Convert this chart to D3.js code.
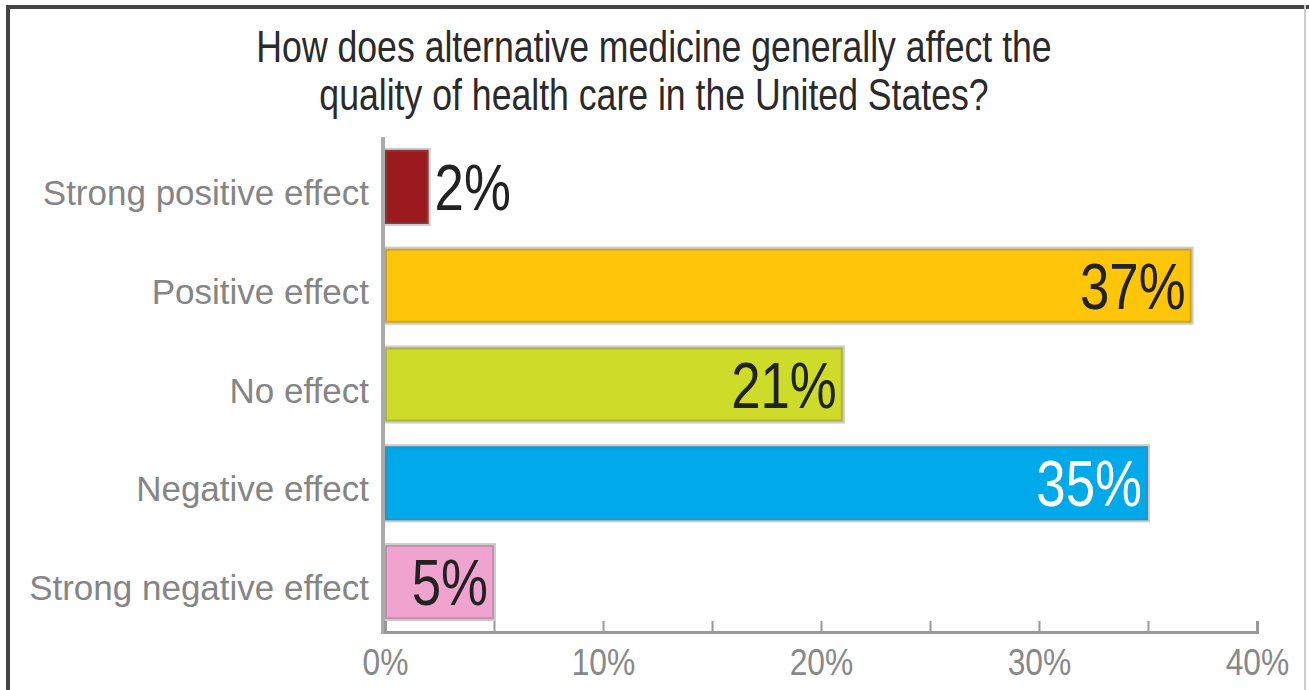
<!DOCTYPE html>
<html>
<head>
<meta charset="utf-8">
<script src="https://cdn.jsdelivr.net/npm/d3@7"></script>
<style>
  body { margin: 0; background: #fff; }
  svg { display: block; }
</style>
</head>
<body>
<div id="chart"></div>
<script>
const categories = ['Strong positive effect', 'Positive effect', 'No effect', 'Negative effect', 'Strong negative effect'];
const values = [2, 37, 21, 35, 5];
const colors = ['#9a1a1d', '#ffc509', '#cddc28', '#00aaea', '#f0a3cf'];
const labelColors = ['#222', '#222', '#222', '#fff', '#222'];
const ticks = [0, 10, 20, 30, 40];
const titleLines = ['How does alternative medicine generally affect the', 'quality of health care in the United States?'];

const width = 1309, height = 690;
const font = "'Liberation Sans', Arial, sans-serif";

const svg = d3.select('#chart').append('svg')
    .attr('width', width)
    .attr('height', height);

// frame
svg.append('rect').attr('x', 0).attr('y', 0).attr('width', width).attr('height', height).attr('fill', '#fff');
svg.append('line').attr('x1', 8).attr('x2', 8).attr('y1', 5).attr('y2', height).attr('stroke', '#444').attr('stroke-width', 4);
svg.append('line').attr('x1', 6).attr('x2', width).attr('y1', 7).attr('y2', 7).attr('stroke', '#444').attr('stroke-width', 4);
svg.append('line').attr('x1', 1305).attr('x2', 1305).attr('y1', 5).attr('y2', height).attr('stroke', '#ccc').attr('stroke-width', 2);

const x = d3.scaleLinear().domain([0, 40]).range([385, 1257]);
const y = d3.scaleBand().domain(categories).range([137, 632]).paddingInner(0.25).paddingOuter(0.13);

// title (condensed look)
svg.selectAll('.title')
    .data(titleLines)
    .enter().append('text')
    .attr('class', 'title')
    .attr('transform', (d, i) => `translate(654,${62 + i * 48}) scale(0.81,1)`)
    .attr('text-anchor', 'middle')
    .attr('font-family', font)
    .attr('font-size', 44)
    .attr('fill', '#2a2a2a')
    .text(d => d);

// bars
svg.selectAll('.bar')
    .data(values)
    .enter().append('rect')
    .attr('class', 'bar')
    .attr('x', x(0))
    .attr('y', (d, i) => y(categories[i]))
    .attr('width', d => x(d) - x(0))
    .attr('height', y.bandwidth())
    .attr('fill', (d, i) => colors[i])
    .attr('stroke', 'rgba(110,110,110,0.35)')
    .attr('stroke-width', 4);

// value labels
svg.selectAll('.val')
    .data(values)
    .enter().append('text')
    .attr('class', 'val')
    .attr('transform', (d, i) => {
        const tx = d < 4 ? x(d) + 6 : x(d) - 6;
        const ty = y(categories[i]) + y.bandwidth() / 2 + 23;
        return `translate(${tx},${ty}) scale(0.825,1)`;
    })
    .attr('text-anchor', d => d < 4 ? 'start' : 'end')
    .attr('font-family', font)
    .attr('font-size', 64)
    .attr('fill', (d, i) => d < 4 ? '#222' : labelColors[i])
    .text(d => d + '%');

// category labels
svg.selectAll('.cat')
    .data(categories)
    .enter().append('text')
    .attr('class', 'cat')
    .attr('x', 369)
    .attr('y', d => y(d) + y.bandwidth() / 2 + 18)
    .attr('text-anchor', 'end')
    .attr('font-family', font)
    .attr('font-size', 35)
    .attr('fill', '#858585')
    .text(d => d);

// y axis line
svg.append('line')
    .attr('x1', 383).attr('x2', 383)
    .attr('y1', 137).attr('y2', 634)
    .attr('stroke', '#aaa').attr('stroke-width', 4);

// x axis
const xAxis = d3.axisBottom(x)
    .tickValues(d3.range(0, 41, 5))
    .tickSize(-11)
    .tickFormat(d => ticks.includes(d) ? d + '%' : '');

const gx = svg.append('g')
    .attr('transform', 'translate(0,632)')
    .call(xAxis);
gx.select('.domain').attr('stroke', '#999').attr('stroke-width', 3);
gx.selectAll('.tick line').attr('stroke', '#999').attr('stroke-width', 2);
gx.selectAll('.tick text')
    .attr('font-family', font)
    .attr('font-size', 37)
    .attr('fill', '#888')
    .attr('dy', 0)
    .attr('y', 0)
    .attr('transform', 'translate(0,43) scale(0.86,1)');
</script>
</body>
</html>
